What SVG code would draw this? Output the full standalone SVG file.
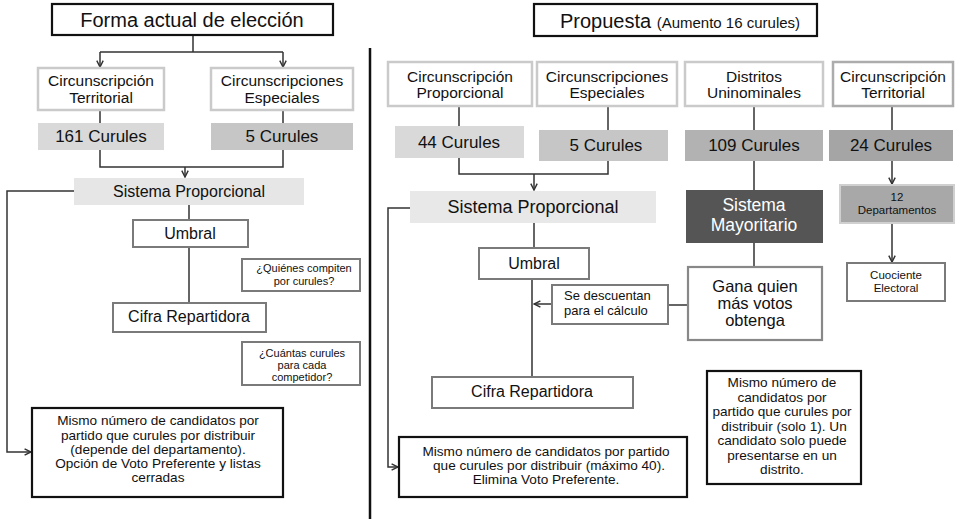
<svg xmlns="http://www.w3.org/2000/svg" width="961" height="519" viewBox="0 0 961 519">
<style>
text{font-family:"Liberation Sans",Arial,sans-serif;fill:#111;text-anchor:middle}
.t20{font-size:20px}
.t17{font-size:17px}
.t16{font-size:15.5px}
.t14{font-size:13.6px}
.t13{font-size:13px}
.t11{font-size:11.5px}
.blk{fill:#fff;stroke:#111;stroke-width:2.2}
.lt{fill:#fff;stroke:#cacaca;stroke-width:2.5}
.gr{fill:#fff;stroke:#7a7a7a;stroke-width:2}
.con path{fill:none;stroke:#333;stroke-width:1.5}
</style>
<defs>
<marker id="ar" viewBox="0 0 10 10" refX="9" refY="5" markerWidth="8" markerHeight="8" markerUnits="userSpaceOnUse" orient="auto">
<path d="M1,1 L9,5 L1,9" fill="none" stroke="#333" stroke-width="1.8"/>
</marker>
</defs>
<rect width="961" height="519" fill="#fff"/>
<line x1="370" y1="48" x2="370" y2="519" stroke="#111" stroke-width="2.5"/>
<g class="con">
<path d="M193,35 V52 M100,52 H283"/>
<path d="M100,52 V67" marker-end="url(#ar)"/>
<path d="M283,52 V67" marker-end="url(#ar)"/>
<path d="M100,110 V123 M283,110 V123"/>
<path d="M100,150 V167 H283 V150"/>
<path d="M185,167 V177" marker-end="url(#ar)"/>
<path d="M189,205 V220 M189,247 V303"/>
<path d="M74,191 H7 V452 H31" marker-end="url(#ar)"/>
<path d="M459,106 V126 M608,106 V130"/>
<path d="M459,158 V174 H608 V161"/>
<path d="M534,174 V190" marker-end="url(#ar)"/>
<path d="M754,106 V130 M754,161 V190 M892,106 V130 M754,243 V267"/>
<path d="M892,161 V184" marker-end="url(#ar)"/>
<path d="M892,223 V262" marker-end="url(#ar)"/>
<path d="M410,208 H388 V467 H398" marker-end="url(#ar)"/>
<path d="M534,223 V248"/>
<path d="M532,279 V377" style="stroke:#111;stroke-width:1.3"/>
<path d="M552,304 H534" marker-end="url(#ar)"/>
<path d="M668,305 H688"/>
</g>
<g id="title-left"><rect class="blk" x="52" y="4" width="281" height="31"/><text class="t20" x="192" y="27">Forma actual de elección</text></g>
<g id="circ-terr-l"><rect class="lt" x="38" y="68" width="126" height="42"/><text class="t16" x="101" y="86">Circunscripción</text><text class="t16" x="101" y="103">Territorial</text></g>
<g id="circ-esp-l"><rect class="lt" x="211" y="68" width="142" height="42"/><text class="t16" x="282" y="86">Circunscripciones</text><text class="t16" x="282" y="103">Especiales</text></g>
<g id="c161"><rect x="38" y="123" width="126" height="27" fill="#d9d9d9"/><text class="t17" x="101" y="142">161 Curules</text></g>
<g id="c5l"><rect x="211" y="123" width="142" height="27" fill="#c6c6c6"/><text class="t17" x="282" y="142">5 Curules</text></g>
<g id="sp-l"><rect x="74" y="178" width="230" height="27" fill="#e6e6e6"/><text x="189" y="197" style="font-size:16px">Sistema Proporcional</text></g>
<g id="umbral-l"><rect class="gr" x="133" y="220" width="115" height="27"/><text x="190" y="239" style="font-size:16px">Umbral</text></g>
<g id="cifra-l"><rect class="gr" x="113" y="303" width="153" height="29"/><text x="189" y="322" style="font-size:16px">Cifra Repartidora</text></g>
<g id="q1"><rect class="gr" x="242" y="259" width="118" height="32"/><text x="304" y="272" style="font-size:11px">¿Quiénes compiten</text><text x="304" y="285" style="font-size:11px">por curules?</text></g>
<g id="q2"><rect class="gr" x="242" y="342" width="118" height="43"/><text x="302" y="357" style="font-size:11px">¿Cuántas curules</text><text x="302" y="369" style="font-size:11px">para cada</text><text x="302" y="381" style="font-size:11px">competidor?</text></g>
<g id="main-l"><rect class="blk" x="32" y="408" width="251" height="89"/>
<text class="t14" x="158" y="425">Mismo número de candidatos por</text>
<text class="t14" x="158" y="439.5">partido que curules por distribuir</text>
<text class="t14" x="158" y="453.5">(depende del departamento).</text>
<text class="t14" x="158" y="468">Opción de Voto Preferente y listas</text>
<text class="t14" x="158" y="482">cerradas</text></g>
<g id="title-right"><rect class="blk" x="534" y="4" width="283" height="32"/><text x="680" y="28"><tspan class="t20">Propuesta </tspan><tspan style="font-size:15px">(Aumento 16 curules)</tspan></text></g>
<g id="circ-prop"><rect class="lt" x="388" y="62" width="144" height="44"/><text class="t16" x="460" y="82">Circunscripción</text><text class="t16" x="460" y="98">Proporcional</text></g>
<g id="circ-esp-r"><rect class="lt" x="537" y="62" width="140" height="44"/><text class="t16" x="607" y="82">Circunscripciones</text><text class="t16" x="607" y="98">Especiales</text></g>
<g id="distritos"><rect class="lt" x="685" y="62" width="138" height="44"/><text class="t16" x="754" y="82">Distritos</text><text class="t16" x="754" y="98">Uninominales</text></g>
<g id="circ-terr-r"><rect x="833" y="62" width="120" height="44" fill="#fff" stroke="#acacac" stroke-width="2.5"/><text class="t16" x="893" y="82">Circunscripción</text><text class="t16" x="893" y="98">Territorial</text></g>
<g id="c44"><rect x="395" y="126" width="129" height="32" fill="#d9d9d9"/><text class="t17" x="459" y="148">44 Curules</text></g>
<g id="c5r"><rect x="539" y="130" width="129" height="31" fill="#c6c6c6"/><text class="t17" x="606" y="151">5 Curules</text></g>
<g id="c109"><rect x="685" y="130" width="138" height="31" fill="#b2b2b2"/><text class="t17" x="754" y="151">109 Curules</text></g>
<g id="c24"><rect x="829" y="130" width="124" height="31" fill="#a5a5a5"/><text class="t17" x="891" y="151">24 Curules</text></g>
<g id="sp-r"><rect x="410" y="191" width="246" height="32" fill="#e8e8e8"/><text x="533" y="213" style="font-size:18px">Sistema Proporcional</text></g>
<g id="umbral-r"><rect class="gr" x="479" y="248" width="110" height="31"/><text x="534" y="269" style="font-size:16px">Umbral</text></g>
<g id="sedesc"><rect class="gr" x="552" y="285" width="116" height="39"/><text class="t13" x="564" y="300" style="text-anchor:start">Se descuentan</text><text class="t13" x="564" y="315" style="text-anchor:start">para el cálculo</text></g>
<g id="cifra-r"><rect class="gr" x="432" y="377" width="201" height="31"/><text x="532" y="397" style="font-size:16px">Cifra Repartidora</text></g>
<g id="main-r"><rect class="blk" x="399" y="437" width="288" height="60"/>
<text class="t14" x="546" y="455.5">Mismo número de candidatos por partido</text>
<text class="t14" x="549" y="470">que curules por distribuir (máximo 40).</text>
<text class="t14" x="546" y="484">Elimina Voto Preferente.</text></g>
<g id="mayoritario"><rect x="686" y="190" width="137" height="53" fill="#555"/><text x="754" y="211" style="font-size:17.5px;fill:#fff">Sistema</text><text x="754" y="231" style="font-size:17.5px;fill:#fff">Mayoritario</text></g>
<g id="gana"><rect x="688" y="267" width="134" height="73" fill="#fff" stroke="#888" stroke-width="2.2"/><text x="755" y="292" style="font-size:16.5px">Gana quien</text><text x="755" y="309" style="font-size:16.5px">más votos</text><text x="755" y="326" style="font-size:16.5px">obtenga</text></g>
<g id="deptos"><rect x="840" y="185" width="114" height="38" fill="#a8a8a8" stroke="#d0d0d0" stroke-width="2"/><text class="t11" x="897" y="201">12</text><text class="t11" x="897" y="213.5">Departamentos</text></g>
<g id="cuociente"><rect class="gr" x="847" y="263" width="98" height="38"/><text class="t11" x="896" y="279">Cuociente</text><text class="t11" x="896" y="292">Electoral</text></g>
<g id="box-uninom"><rect class="blk" x="707" y="371" width="154" height="113"/>
<text class="t14" x="782" y="387">Mismo número de</text>
<text class="t14" x="782" y="401.5">candidatos por</text>
<text class="t14" x="782" y="416">partido que curules por</text>
<text class="t14" x="784" y="430.5">distribuir (solo 1). Un</text>
<text class="t14" x="782" y="445">candidato solo puede</text>
<text class="t14" x="782" y="459.5">presentarse en un</text>
<text class="t14" x="782" y="474">distrito.</text></g>
</svg>
